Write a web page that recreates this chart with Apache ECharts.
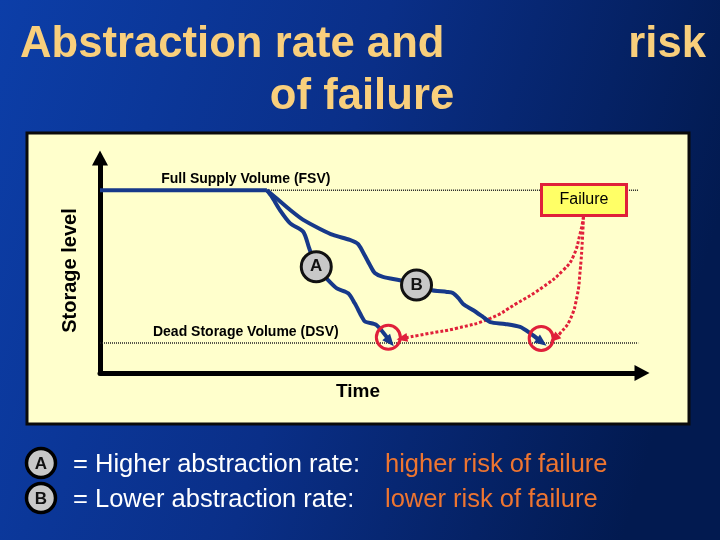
<!DOCTYPE html>
<html>
<head>
<meta charset="utf-8">
<script src="https://cdn.jsdelivr.net/npm/echarts@6/dist/echarts.min.js"></script>
<style>
  html, body { margin: 0; padding: 0; }
  #chart { width: 720px; height: 540px; }
</style>
</head>
<body>
<div id="chart"></div>
<script>
// storage level (0-100) against time (0-100)
const fsvLevel = 85
const dsvLevel = 14
const fsvEnd = 99.3
const drawdownStart = 30.8

// A = higher abstraction rate, B = lower abstraction rate
const curveA = [
  [30.8, 85], [31.7, 82.0], [33.2, 75.8], [35.1, 69.6], [37.5, 65.7], [38.6, 58.0],
  [39.9, 49.3], [41.8, 44.0], [43.7, 39.4], [45.8, 37.1], [47.0, 32.4], [48.3, 26.2],
  [48.9, 23.9], [51.0, 22.3], [53.5, 14.6]
]
const curveB = [
  [30.8, 85], [32.5, 81.4], [35.1, 75.8], [37.5, 71.2], [40.6, 67.0], [43.0, 64.2],
  [46.1, 61.9], [47.6, 60.0], [48.5, 56.3], [49.8, 50.2], [50.7, 46.5], [52.2, 44.7],
  [55.9, 42.8], [58.5, 40.9], [60.9, 38.6], [64.0, 37.7], [65.1, 37.2], [66.1, 34.9],
  [67.0, 32.1], [68.8, 29.3], [70.7, 26.0], [72.0, 23.7], [74.7, 22.8], [77.5, 21.4],
  [79.3, 18.6], [81.5, 14.4]
]
// failure pointers, from the Failure box down to where each curve hits DSV
const failureToA = [
  [89.2, 72.7], [88.6, 65.0], [87.3, 54.1], [85.5, 47.9], [81.8, 40.1], [76.9, 32.4],
  [72.0, 25.4], [65.8, 20.8], [60.9, 18.5], [55.7, 16.1]
]
const failureToB = [
  [89.2, 72.7], [89.0, 61.9], [88.6, 47.9], [88.0, 35.5], [86.7, 24.7], [84.9, 18.5], [83.8, 16.1]
]
const failurePoints = [[53.2, 16.6], [81.4, 16.1]]
const badges = [['A', 39.9, 49.4], ['B', 58.4, 40.9]]
const failureBox = [89.3, 80.5]
const levelLabels = [['Full Supply Volume (FSV)', 26.9, fsvLevel], ['Dead Storage Volume (DSV)', 26.9, dsvLevel]]

const titleLines = ['Abstraction rate and', 'risk', 'of failure']
const legendRows = [
  ['A', '= Higher abstraction rate:', 'higher risk of failure'],
  ['B', '= Lower abstraction rate:', 'lower risk of failure']
]

const FONT = '"Liberation Sans", Arial, sans-serif'
const GRID = { left: 100, top: 158, width: 542, height: 215 }
const NAVY = '#17398a'
const RED = '#e0203a'

// rotate a triangle so it points along the last segment of a path
function headRotation(pts) {
  let a = pts[pts.length - 2], b = pts[pts.length - 1]
  let dx = (b[0] - a[0]) * GRID.width / 100
  let dy = (b[1] - a[1]) * GRID.height / 100
  return Math.atan2(dy, dx) * 180 / Math.PI - 90
}

function withHead(pts, size) {
  return pts.map((p, i) => i < pts.length - 1 ? p : {
    value: p, symbol: 'triangle', symbolSize: size, symbolRotate: headRotation(pts)
  })
}

let myChart = echarts.init(document.getElementById('chart'))

let graphics = [
  {
    type: 'rect', z: -10,
    shape: { x: 27, y: 133, width: 662, height: 291 },
    style: { fill: '#ffffcc', stroke: '#0b0b0b', lineWidth: 3 }
  }
]
let titleStyle = { font: 'bold 45px ' + FONT, fill: '#f9cf7c', shadowColor: 'rgba(0,0,30,0.8)', shadowOffsetX: 2, shadowOffsetY: 2, shadowBlur: 2 }
graphics.push({ type: 'text', x: 20, y: 45, scaleX: 0.97, style: Object.assign({ text: titleLines[0], align: 'left', verticalAlign: 'middle' }, titleStyle) })
graphics.push({ type: 'text', x: 706, y: 45, scaleX: 0.97, style: Object.assign({ text: titleLines[1], align: 'right', verticalAlign: 'middle' }, titleStyle) })
graphics.push({ type: 'text', x: 362, y: 97, scaleX: 0.97, style: Object.assign({ text: titleLines[2], align: 'center', verticalAlign: 'middle' }, titleStyle) })

legendRows.forEach((row, i) => {
  let y = 463 + i * 35
  graphics.push({ type: 'circle', shape: { cx: 41, cy: y, r: 14.5 }, style: { fill: '#c8c8c8', stroke: '#000', lineWidth: 3.5 } })
  graphics.push({ type: 'text', x: 41, y: y + 1, style: { text: row[0], font: 'bold 17px ' + FONT, fill: '#111', align: 'center', verticalAlign: 'middle' } })
  graphics.push({ type: 'text', x: 73, y: y + 2, style: { text: row[1], font: '25.5px ' + FONT, fill: '#ffffff', align: 'left', verticalAlign: 'middle' } })
  graphics.push({ type: 'text', x: 385, y: y + 2, style: { text: row[2], font: '25.5px ' + FONT, fill: '#ee7530', align: 'left', verticalAlign: 'middle' } })
})

myChart.setOption({
  backgroundColor: new echarts.graphic.LinearGradient(0, 0, 1, 0.4, [
    { offset: 0, color: '#0c3ea8' },
    { offset: 0.5, color: '#0a2f88' },
    { offset: 1, color: '#021a50' }
  ]),
  textStyle: { fontFamily: FONT },
  animation: false,
  graphic: graphics,
  grid: GRID,
  xAxis: {
    type: 'value', min: 0, max: 100,
    name: 'Time', nameLocation: 'middle', nameGap: 9,
    nameTextStyle: { color: '#000', fontSize: 19, fontWeight: 'bold', padding: [0, 26, 0, 0] },
    axisLine: { lineStyle: { color: '#000', width: 5 }, symbol: ['none', 'triangle'], symbolSize: [16, 15] },
    axisTick: { show: false }, axisLabel: { show: false }, splitLine: { show: false }
  },
  yAxis: {
    type: 'value', min: 0, max: 100,
    name: 'Storage level', nameLocation: 'middle', nameGap: 20, nameRotate: 90,
    nameTextStyle: { color: '#000', fontSize: 20, fontWeight: 'bold', padding: [0, 10, 0, 0] },
    axisLine: { show: true, lineStyle: { color: '#000', width: 5 }, symbol: ['none', 'triangle'], symbolSize: [16, 15] },
    axisTick: { show: false }, axisLabel: { show: false }, splitLine: { show: false }
  },
  series: [
    {
      name: 'FSV dotted', type: 'line', symbol: 'none',
      data: [[drawdownStart, fsvLevel], [fsvEnd, fsvLevel]],
      lineStyle: { color: '#222', width: 1.5, type: [1, 1] }
    },
    {
      name: 'DSV', type: 'line', symbol: 'none',
      data: [[0, dsvLevel], [fsvEnd, dsvLevel]],
      lineStyle: { color: '#222', width: 1.5, type: [1, 1] }
    },
    {
      name: 'FSV', type: 'line', symbol: 'none',
      data: [[0, fsvLevel], [drawdownStart, fsvLevel]],
      lineStyle: { color: NAVY, width: 4 }
    },
    {
      name: 'level labels', type: 'scatter', symbolSize: 0, z: 3,
      data: levelLabels.map(d => ({ name: d[0], value: [d[1], d[2]] })),
      itemStyle: { opacity: 1 },
      label: { show: true, position: 'top', distance: 4, formatter: '{b}', color: '#000', fontSize: 14, fontWeight: 'bold' }
    },
    {
      name: 'failure to A', type: 'line', symbol: 'none', smooth: 0.5,
      data: withHead(failureToA, [9, 11]),
      itemStyle: { color: RED },
      lineStyle: { color: RED, width: 3, type: [3, 2] }
    },
    {
      name: 'failure to B', type: 'line', symbol: 'none', smooth: 0.5,
      data: withHead(failureToB, [9, 11]),
      itemStyle: { color: RED },
      lineStyle: { color: RED, width: 3, type: [3, 2] }
    },
    {
      name: 'A', type: 'line', symbol: 'none', smooth: 0.25,
      data: withHead(curveA, [10, 12]),
      itemStyle: { color: NAVY },
      lineStyle: { color: NAVY, width: 4 }
    },
    {
      name: 'B', type: 'line', symbol: 'none', smooth: 0.25,
      data: withHead(curveB, [10, 12]),
      itemStyle: { color: NAVY },
      lineStyle: { color: NAVY, width: 4 }
    },
    {
      name: 'failure points', type: 'scatter', symbolSize: 24, z: 4,
      data: failurePoints,
      itemStyle: { color: 'rgba(0,0,0,0)', borderColor: RED, borderWidth: 3, opacity: 1 }
    },
    {
      name: 'badges', type: 'scatter', symbolSize: 30, z: 5,
      data: badges.map(d => ({ name: d[0], value: [d[1], d[2]] })),
      itemStyle: { color: '#c8c8c8', borderColor: '#111', borderWidth: 3, opacity: 1 },
      label: { show: true, position: 'inside', formatter: '{b}', color: '#111', fontSize: 17, fontWeight: 'bold' }
    },
    {
      name: 'Failure', type: 'scatter', symbolSize: 0, z: 5,
      data: [{ name: 'Failure', value: failureBox }],
      itemStyle: { opacity: 1 },
      label: {
        show: true, position: 'inside', formatter: '{b}', color: '#000', fontSize: 16,
        backgroundColor: '#ffff66', borderColor: RED, borderWidth: 3,
        width: 82, height: 28, lineHeight: 28, align: 'center', verticalAlign: 'middle'
      }
    }
  ]
})
</script>
</body>
</html>
